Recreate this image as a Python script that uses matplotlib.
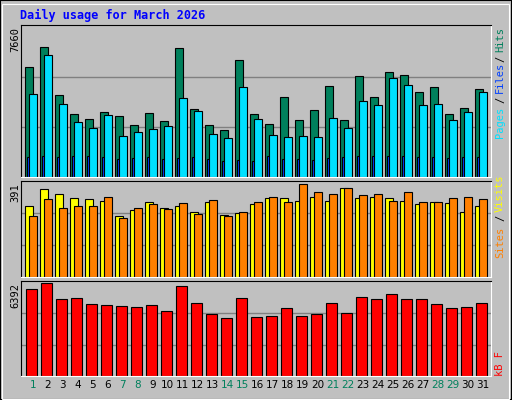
import numpy as np
import matplotlib.pyplot as plt
from matplotlib.patches import Rectangle

# values
days = np.arange(1, 32)
hits = [5705, 6766, 4242, 3282, 3029, 3383, 3181, 2676, 3332, 2928, 6716, 3518, 2676, 2423,
        6058, 3282, 2727, 4141, 2946, 3501, 4714, 2946, 5219, 4158, 5471, 5269, 4411, 4663,
        3282, 3585, 4545]
files = [4293, 6327, 3787, 2828, 2525, 3231, 2121, 2323, 2474, 2626, 4091, 3400, 2222, 2020,
         4646, 3029, 2171, 2070, 2121, 2070, 3080, 2525, 3955, 3753, 5134, 4781, 3753, 3804,
         2979, 3383, 4411]
pages = [1050, 1100, 1050, 1100, 1100, 1050, 950, 1000, 1050, 950, 1000, 1050, 950, 850,
         900, 850, 1100, 950, 950, 900, 1000, 1050, 1100, 1100, 1100, 1100, 1050, 1050,
         1000, 1050, 1050]
sites = [301, 369, 352, 331, 327, 322, 259, 284, 318, 293, 301, 276, 318, 263, 271, 308,
         333, 331, 322, 339, 322, 375, 331, 339, 331, 322, 308, 318, 313, 276, 301]
visits = [259, 327, 290, 299, 299, 336, 250, 290, 308, 287, 311, 265, 324, 259, 276, 318,
          339, 318, 391, 357, 350, 374, 344, 350, 322, 357, 318, 318, 331, 336, 327]
kb = [6041, 6462, 5363, 5432, 5012, 4942, 4872, 4802, 4942, 4522, 6250, 5082, 4313, 4032,
      5432, 4103, 4173, 4732, 4173, 4313, 5082, 4383, 5502, 5363, 5712, 5363, 5363, 5012,
      4732, 4802, 5082]
weekend = [1, 7, 8, 14, 15, 21, 22, 28, 29]

hits_top, sv_top, kb_top = 7885, 406, 6649

W, H = 512, 400
fig = plt.figure(figsize=(5.12, 4.0), dpi=100, facecolor="#C0C0C0")

def px_axes(x0, y0, x1, y1):
    return fig.add_axes([x0 / W, 1 - y1 / H, (x1 - x0) / W, (y1 - y0) / H])

def style(ax, top):
    ax.set_facecolor("#C0C0C0")
    ax.set_xlim(0.19, 31.54)
    ax.set_ylim(0, top)
    ax.set_xticks([])
    ax.set_yticks([])
    for s in ["top", "left"]:
        ax.spines[s].set_color("black")
    for s in ["bottom", "right"]:
        ax.spines[s].set_color("white")
    for f in (0.33, 0.66):
        ax.axhline(top * f, color="#808080", lw=1, zorder=0)

ek = dict(edgecolor="black", linewidth=0.8, align="edge")

ax1 = px_axes(20.7, 25, 491, 177)
style(ax1, hits_top)
ax1.bar(days - 0.5, hits, 0.49, color="#00805C", **ek)
ax1.bar(days - 0.41, pages, 0.2, color="#0040FF", **ek)
ax1.bar(days - 0.23, files, 0.49, color="#00E0FF", **ek)

ax2 = px_axes(20.7, 180.7, 491, 277)
style(ax2, sv_top)
ax2.bar(days - 0.5, sites, 0.52, color="#FFFF00", **ek)
ax2.bar(days - 0.23, visits, 0.49, color="#FF8000", **ek)

ax3 = px_axes(20.7, 280.7, 491, 376)
style(ax3, kb_top)
ax3.bar(days - 0.43, kb, 0.69, color="#FF0000", **ek)

def ftext(px, py, s, **kw):
    fig.text(px / W, 1 - py / H, s, **kw)

mono = dict(family="DejaVu Sans Mono", fontsize=7.5)
ftext(20, 15, "Daily usage for March 2026", color="#0000FF", weight="bold",
      family="DejaVu Sans Mono", fontsize=8.5, va="center")
ftext(15, 27, "7660", rotation=90, va="top", ha="center", **mono)
ftext(15, 183, "391", rotation=90, va="top", ha="center", **mono)
ftext(15, 283, "6392", rotation=90, va="top", ha="center", **mono)

for y, s, c in [(40, "Hits", "#00805C"), (59, "/", "black"), (77, "Files", "#0040FF"),
                (100, "/", "black"), (122, "Pages", "#00E0FF"),
                (193, "Visits", "#FFFF00"), (218, "/", "black"), (242, "Sites", "#FF8000"),
                (364, "kB F", "#FF0000")]:
    ftext(500, y, s, color=c, rotation=90, ha="center", va="center", **mono)

for d in days:
    ax3.text(d, -0.045, str(d), transform=ax3.get_xaxis_transform(), ha="center", va="top",
             color="#00805C" if d in weekend else "black", family="DejaVu Sans", fontsize=7.5)

# outer bevelled frame
fig.add_artist(Rectangle((0, 0), 1, 1, transform=fig.transFigure, fill=False,
                         edgecolor="black", lw=1.5))
fig.add_artist(Rectangle((1.5 / W, 1.5 / H), (W - 5) / W, (H - 5) / H, transform=fig.transFigure,
                         fill=False, edgecolor="white", lw=0.8))

fig.savefig("out.png", dpi=100, facecolor=fig.get_facecolor())
